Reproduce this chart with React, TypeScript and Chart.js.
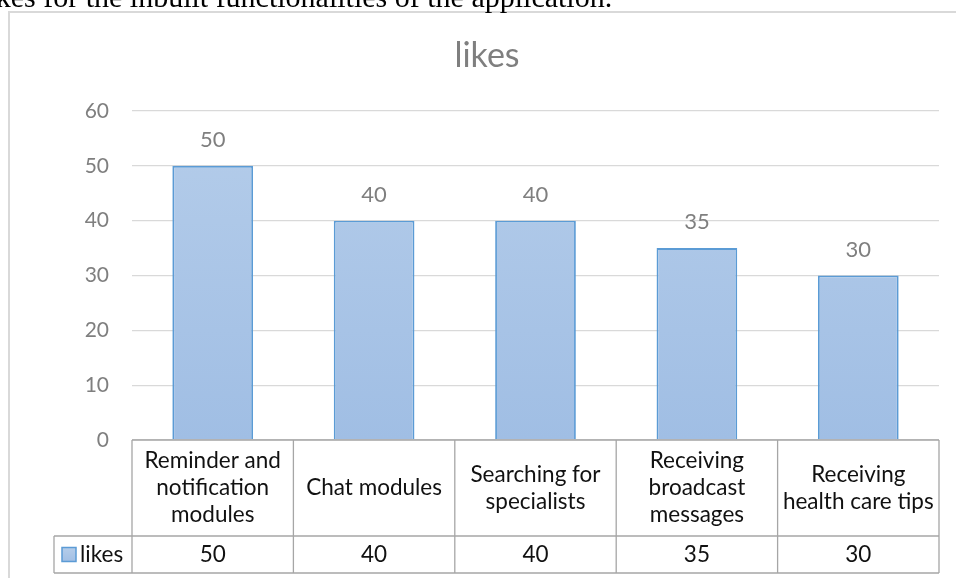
import React, { useEffect, useRef } from "react";
import { Chart, registerables } from "chart.js";

Chart.register(...registerables);

const chartTitle = "likes";
const seriesName = "likes";
const categories: string[][] = [
  ["Reminder and", "notification", "modules"],
  ["Chat modules"],
  ["Searching for", "specialists"],
  ["Receiving", "broadcast", "messages"],
  ["Receiving", "health care tips"],
];
const likes = [50, 40, 40, 35, 30];
const yMin = 0;
const yMax = 60;
const yStep = 10;
const captionText = "likes for the inbuilt functionalities of the application.";

const FONT = "Lato, 'Noto Sans', sans-serif";

const tablePlugin = {
  id: "excelDecor",
  beforeDraw(chart: any) {
    const ctx = chart.ctx;
    ctx.save();
    ctx.fillStyle = "#ffffff";
    ctx.fillRect(0, 0, chart.width, chart.height);
    ctx.strokeStyle = "#d9d9d9";
    ctx.lineWidth = 2;
    ctx.strokeRect(9, 12, chart.width + 40, chart.height + 40);
    ctx.restore();
  },
  afterDraw(chart: any) {
    const ctx = chart.ctx;
    const area = chart.chartArea;
    const xs = chart.scales.x;
    const n = categories.length;
    const colW = (area.right - area.left) / n;
    const top = area.bottom;
    const headerBottom = top + 96;
    const tableBottom = headerBottom + 37;
    const legendLeft = 54;

    ctx.save();
    // title
    ctx.fillStyle = "#7f7f7f";
    ctx.font = `34px ${FONT}`;
    ctx.textAlign = "center";
    ctx.textBaseline = "alphabetic";
    ctx.fillText(chartTitle, 487, 67);

    // data labels
    const meta = chart.getDatasetMeta(0);
    ctx.font = `22px ${FONT}`;
    ctx.fillStyle = "#7f7f7f";
    meta.data.forEach((bar: any, i: number) => {
      ctx.fillText(String(likes[i]), bar.x, bar.y - 19);
    });

    // table lines
    ctx.strokeStyle = "#a6a6a6";
    ctx.lineWidth = 1.3;
    ctx.beginPath();
    ctx.moveTo(area.left, top);
    ctx.lineTo(area.right, top);
    ctx.moveTo(legendLeft, headerBottom);
    ctx.lineTo(area.right, headerBottom);
    ctx.moveTo(legendLeft, tableBottom);
    ctx.lineTo(area.right, tableBottom);
    ctx.moveTo(legendLeft, headerBottom);
    ctx.lineTo(legendLeft, tableBottom);
    for (let i = 0; i <= n; i++) {
      const x = area.left + i * colW;
      ctx.moveTo(x, top);
      ctx.lineTo(x, tableBottom);
    }
    ctx.stroke();

    // header text
    ctx.fillStyle = "#111111";
    ctx.font = `22.5px ${FONT}`;
    ctx.textAlign = "center";
    ctx.textBaseline = "middle";
    const lh = 27;
    const headerMid = (top + headerBottom) / 2;
    categories.forEach((lines, i) => {
      const cx = xs.getPixelForValue(i);
      const startY = headerMid - ((lines.length - 1) * lh) / 2;
      lines.forEach((ln, j) => ctx.fillText(ln, cx, startY + j * lh));
    });

    // values row
    const rowMid = (headerBottom + tableBottom) / 2;
    likes.forEach((v, i) => {
      ctx.fillText(String(v), xs.getPixelForValue(i), rowMid);
    });

    // legend key
    const keyX = 62;
    const keyY = rowMid - 7;
    const g = ctx.createLinearGradient(0, keyY, 0, keyY + 14);
    g.addColorStop(0, "#b5cdea");
    g.addColorStop(1, "#a2bfe4");
    ctx.fillStyle = g;
    ctx.fillRect(keyX, keyY, 14, 14);
    ctx.strokeStyle = "#5b9bd5";
    ctx.lineWidth = 1.5;
    ctx.strokeRect(keyX, keyY, 14, 14);
    ctx.fillStyle = "#111111";
    ctx.textAlign = "left";
    ctx.fillText(seriesName, 80, rowMid);
    ctx.restore();
  },
};

export default function App() {
  const ref = useRef<HTMLCanvasElement | null>(null);

  useEffect(() => {
    if (!ref.current) return;
    const chart = new Chart(ref.current, {
      type: "bar",
      data: {
        labels: categories.map((c) => c.join(" ")),
        datasets: [
          {
            label: seriesName,
            data: likes,
            backgroundColor: (c: any) => {
              const ch = c.chart;
              const a = ch.chartArea;
              if (!a) return "#abc6e7";
              const g = ch.ctx.createLinearGradient(0, a.top, 0, a.bottom);
              g.addColorStop(0, "#b5cdea");
              g.addColorStop(1, "#a0bee4");
              return g;
            },
            borderColor: "#5b9bd5",
            borderWidth: 1.8,
            categoryPercentage: 1,
            barPercentage: 0.5,
          },
        ],
      },
      options: {
        responsive: false,
        animation: false,
        layout: { padding: { left: 0, top: 111, right: 17, bottom: 138 } },
        plugins: {
          legend: { display: false },
          title: { display: false },
          tooltip: { enabled: false },
        },
        scales: {
          x: { display: false },
          y: {
            min: yMin,
            max: yMax,
            afterFit: (s: any) => {
              s.width = 132;
            },
            ticks: {
              stepSize: yStep,
              padding: 23,
              color: "#7f7f7f",
              font: { family: FONT, size: 21 },
            },
            grid: { color: "#d9d9d9", lineWidth: 1.3, drawTicks: false },
            border: { display: false },
          },
        },
      },
      plugins: [tablePlugin],
    });
    return () => chart.destroy();
  }, []);

  return (
    <div style={{ position: "fixed", left: 0, top: 0, width: 956, height: 578, overflow: "hidden", background: "#fff" }}>
      <canvas ref={ref} width={956} height={578} style={{ position: "absolute", left: 0, top: 0 }} />
      <div
        style={{
          position: "absolute",
          left: -21,
          top: -18,
          whiteSpace: "nowrap",
          fontFamily: "'Liberation Serif', 'Times New Roman', serif",
          fontSize: 30,
          lineHeight: "30px",
          color: "#000",
        }}
      >
        {captionText}
      </div>
    </div>
  );
}
